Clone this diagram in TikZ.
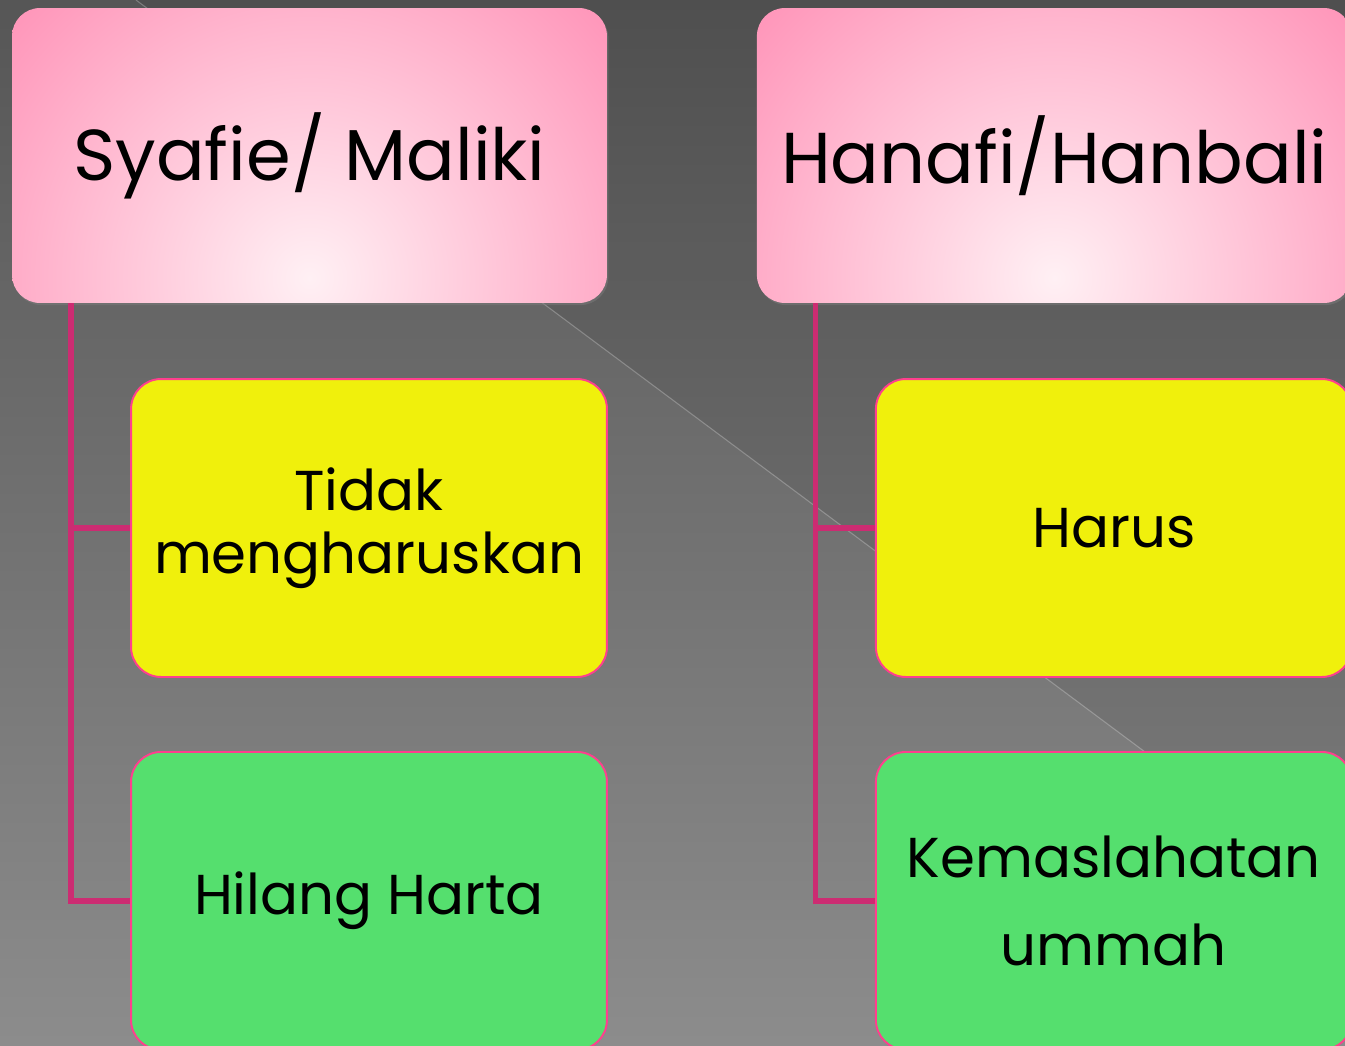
\documentclass[tikz,border=0pt]{standalone}
\usepackage{fontspec}
\setmainfont{Poppins}
\usetikzlibrary{positioning,shadows}

\definecolor{bgtop}{HTML}{565656}
\definecolor{bgbot}{HTML}{8C8C8C}
\definecolor{pinkout}{HTML}{FF84AE}
\definecolor{pinkin}{HTML}{FFF0F4}
\definecolor{boxyel}{HTML}{F0F00C}
\definecolor{boxgrn}{HTML}{55DF6E}
\definecolor{boxrim}{HTML}{FF3F8E}
\definecolor{linkc}{HTML}{CC2C72}

\begin{document}
\begin{tikzpicture}[x=0.02cm,y=-0.02cm,node distance=14.9cm,
  head/.style={rounded corners=0.56cm,minimum width=11.9cm,minimum height=5.9cm,
    drop shadow={opacity=0.45,shadow xshift=0.8pt,shadow yshift=-1.2pt},
    path picture={\shade[inner color=pinkin,outer color=pinkout]
      ([yshift=0.5cm]path picture bounding box.south) circle (9.5cm);},
    font=\fontsize{41}{50}\selectfont},
  kid/.style={rounded corners=0.6cm,minimum width=9.52cm,minimum height=5.96cm,
    draw=boxrim,line width=1.1pt,align=center,
    font=\fontsize{32}{36}\selectfont},
  link/.style={draw=linkc,line width=3.3pt}]

\useasboundingbox (0,0) rectangle (1345,1045);

% background
\shade[top color=bgtop,bottom color=bgbot] (0,0) rectangle (1345,1045);
\fill[black,opacity=0.07] (136,0) -- (1345,0) -- (1345,901) -- cycle;
\draw[white,opacity=0.25,line width=0.6pt] (136,0) -- (1345,901);

% headers
\node[head] (syafie) at (309.5,155.5) {Syafie/ Maliki};
\node[head] (hanafi) [right of=syafie] {Hanafi/Hanbali};

% children
\node[kid,fill=boxyel] (tidak) at (369,528) {Tidak\\mengharuskan};
\node[kid,fill=boxgrn] (hilang) [below of=tidak,node distance=7.46cm] {Hilang Harta};
\node[kid,fill=boxyel] (harus) [right of=tidak] {Harus};
\node[kid,fill=boxgrn,font=\fontsize{32}{50}\selectfont] (kemas) [right of=hilang] {Kemaslahatan\\ummah};

% connectors
\coordinate (trunkL) at ([xshift=1.18cm]syafie.south west);
\coordinate (trunkR) at ([xshift=1.18cm]hanafi.south west);
\draw[link] (trunkL) |- (hilang.west);
\draw[link] (trunkL |- tidak.west) -- (tidak.west);
\draw[link] (trunkR) |- (kemas.west);
\draw[link] (trunkR |- harus.west) -- (harus.west);

\end{tikzpicture}
\end{document}
